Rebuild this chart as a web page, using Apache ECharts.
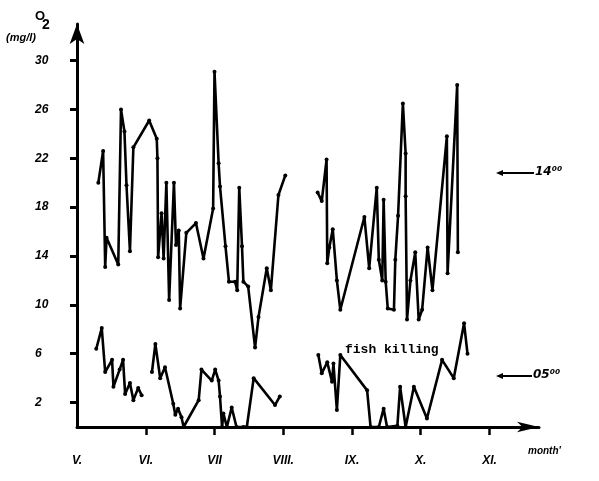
<!DOCTYPE html>
<html><head><meta charset="utf-8">
<script src="https://cdn.jsdelivr.net/npm/echarts@6/dist/echarts.min.js"></script>
<style>html,body{margin:0;padding:0;background:#fff}#c{width:599px;height:481px}</style>
</head><body><div id="c"></div>
<script>
// month axis (V = May ... XI = November), x in month units
const monthTicks = [5, 6, 7, 8, 9, 10, 11];
const monthLabels = ['V.', 'VI.', 'VII', 'VIII.', 'IX.', 'X.', 'XI.'];
const o2Ticks = [2, 6, 10, 14, 18, 22, 26, 30];

// O2 (mg/l) at 14:00 — first and second measuring periods
const o2At14_part1 = [
  [5.31,20.0],[5.38,22.6],[5.41,13.1],[5.43,15.5],[5.60,13.3],[5.64,26.0],[5.69,24.2],[5.72,19.8],
  [5.77,14.4],[5.82,22.9],[6.05,25.1],[6.16,23.6],[6.17,22.0],[6.18,13.9],[6.23,17.5],
  [6.26,13.8],[6.30,20.0],[6.34,10.4],[6.41,20.0],[6.44,14.9],[6.48,16.1],[6.50,9.7],[6.59,15.9],
  [6.73,16.7],[6.84,13.8],[6.98,17.9],[7.00,29.1],[7.06,21.6],[7.08,19.7],[7.16,14.8],[7.21,11.9],
  [7.30,11.9],[7.33,11.2],[7.36,19.6],[7.40,14.8],[7.42,11.9],[7.49,11.5],[7.59,6.5],[7.64,9.0],
  [7.76,13.0],[7.82,11.2],[7.93,19.0],[8.03,20.6]
];
const o2At14_part2 = [
  [8.50,19.2],[8.56,18.5],[8.63,21.9],[8.64,13.4],[8.67,14.7],[8.72,16.2],[8.78,12.0],[8.83,9.6],
  [9.18,17.2],[9.25,13.0],[9.36,19.6],[9.39,13.7],[9.44,12.0],[9.46,18.6],[9.49,11.9],[9.52,9.7],
  [9.61,9.6],[9.63,13.7],[9.67,17.3],[9.74,26.5],[9.78,22.4],[9.78,18.9],[9.80,8.8],[9.85,12.0],
  [9.92,14.3],[9.97,8.8],[10.02,9.6],[10.10,14.7],[10.17,11.2],[10.38,23.8],[10.39,12.6],[10.53,28.0],
  [10.54,14.3]
];
// O2 (mg/l) at 05:00
const o2At05_part1 = [
  [5.28,6.4],[5.36,8.1],[5.41,4.5],[5.51,5.5],[5.53,3.3],[5.62,4.7],[5.67,5.5],[5.70,2.7],
  [5.77,3.6],[5.82,2.2],[5.89,3.2],[5.94,2.6]
];
const o2At05_part2 = [
  [6.09,4.5],[6.14,6.8],[6.21,4.0],[6.28,4.9],[6.40,1.9],[6.43,1.0],[6.47,1.5],[6.52,0.8],
  [6.55,0.0],[6.77,2.2],[6.81,4.7],[6.96,3.8],[7.01,4.7],[7.06,3.8],[7.08,2.5],[7.11,0.0],
  [7.13,1.1],[7.18,0.0],[7.25,1.6],[7.32,0.0],[7.42,0.0],[7.47,0.0],[7.57,4.0],[7.88,1.8],
  [7.95,2.5]
];
const o2At05_part3 = [
  [8.51,5.9],[8.56,4.4],[8.64,5.3],[8.71,3.7],[8.73,5.2],[8.78,1.4],[8.83,5.9],[9.22,3.0],
  [9.27,0.0],[9.39,0.0],[9.46,1.5],[9.51,0.0],[9.66,0.1],[9.70,3.3],[9.78,0.0],[9.90,3.3],
  [10.09,0.7],[10.31,5.5],[10.48,4.0],[10.63,8.5],[10.68,6.0]
];

const segments = [o2At14_part1, o2At14_part2, o2At05_part1, o2At05_part2, o2At05_part3];

const chart = echarts.init(document.getElementById('c'), null, {renderer: 'canvas'});
const fontNum = {fontFamily: 'Liberation Sans', fontStyle: 'italic', fontWeight: 'bold', color: '#000'};

chart.setOption({
  animation: false,
  backgroundColor: '#fff',
  grid: {left: 77, right: 60, top: 24, bottom: 54, containLabel: false},
  xAxis: {
    type: 'value', min: 5, max: 11.72,
    axisLine: {show: true, onZero: false, symbol: ['none', 'arrow'], symbolSize: [8, 22],
      lineStyle: {color: '#000', width: 3}},
    axisTick: {show: true, customValues: monthTicks.slice(1), length: 8, inside: false,
      lineStyle: {color: '#000', width: 2.5}},
    axisLabel: {customValues: monthTicks, margin: 28, fontSize: 12, ...fontNum,
      formatter: v => monthLabels[monthTicks.indexOf(v)]},
    splitLine: {show: false}
  },
  yAxis: {
    type: 'value', min: 0, max: 33,
    axisLine: {show: true, onZero: false, symbol: ['none', 'arrow'], symbolSize: [11, 20],
      lineStyle: {color: '#000', width: 3}},
    axisTick: {show: true, customValues: o2Ticks, length: 7, lineStyle: {color: '#000', width: 3}},
    axisLabel: {customValues: o2Ticks, margin: 42, align: 'left', fontSize: 12, ...fontNum},
    splitLine: {show: false}
  },
  series: segments.map(seg => ({
    type: 'line', data: seg, symbol: 'circle', symbolSize: 4, showSymbol: true,
    lineStyle: {color: '#000', width: 2.6}, itemStyle: {color: '#000'}, z: 3
  })),
  graphic: [
    {type: 'text', left: 35, top: 10, style: {text: 'O', fontSize: 13, fontWeight: 'bold', fontFamily: 'Liberation Sans', fill: '#000'}},
    {type: 'text', left: 42, top: 18, style: {text: '2', fontSize: 14, fontWeight: 'bold', fontFamily: 'Liberation Sans', fill: '#000'}},
    {type: 'text', left: 6, top: 32, style: {text: '(mg/l)', fontSize: 11, fontWeight: 'bold', fontStyle: 'italic', fontFamily: 'Liberation Sans', fill: '#000'}},
    {type: 'text', left: 528, top: 446, style: {text: "month'", fontSize: 10, fontWeight: 'bold', fontStyle: 'italic', fontFamily: 'Liberation Sans', fill: '#000'}},
    {type: 'line', shape: {x1: 500, y1: 173, x2: 534, y2: 173}, style: {stroke: '#000', lineWidth: 2}},
    {type: 'polygon', shape: {points: [[496, 173], [503, 170], [503, 176]]}, style: {fill: '#000'}},
    {type: 'text', left: 535, top: 166, style: {text: '14⁰⁰', fontSize: 12, fontWeight: 'bold', fontStyle: 'italic', fontFamily: 'DejaVu Sans', fill: '#000'}},
    {type: 'line', shape: {x1: 500, y1: 376, x2: 532, y2: 376}, style: {stroke: '#000', lineWidth: 2}},
    {type: 'polygon', shape: {points: [[496, 376], [503, 373], [503, 379]]}, style: {fill: '#000'}},
    {type: 'text', left: 533, top: 369, style: {text: '05⁰⁰', fontSize: 12, fontWeight: 'bold', fontStyle: 'italic', fontFamily: 'DejaVu Sans', fill: '#000'}},
    {type: 'text', left: 345, top: 343, style: {text: 'fish killing', fontSize: 13, fontWeight: 'bold', fontFamily: 'Liberation Mono', fill: '#000'}}
  ]
});
</script>
</body></html>
